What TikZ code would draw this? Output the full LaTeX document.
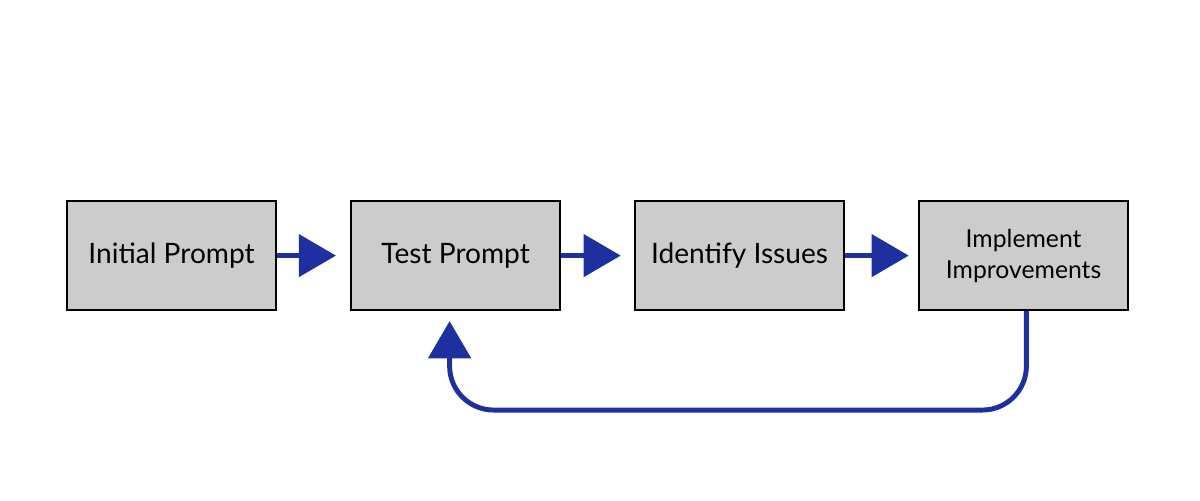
\documentclass[tikz,border=0pt]{standalone}
\usepackage{fontspec}
\setmainfont{Lato}
\usepackage{tikz}
\usetikzlibrary{positioning, calc, arrows.meta}

\definecolor{flowblue}{RGB}{30,48,160}
\definecolor{boxgray}{RGB}{204,204,204}

\begin{document}
\begin{tikzpicture}[node distance=7.1cm, on grid, auto,
					box/.style={draw=black, line width=1.5pt, fill=boxgray, minimum width=5.23cm,
						minimum height=2.72cm, align=center, font=\fontsize{20}{24}\selectfont},
					flow/.style={draw=flowblue, line width=3.5pt,
						-{Triangle[length=0.93cm, width=1.05cm]}} ]
					\useasboundingbox (0,0) rectangle (30,12.5);
					\node[box]              (A) at (4.29,6.11)  {Initial Prompt};
					\node[box]              (B) [right=of A]    {Test Prompt};
					\node[box]              (C) [right=of B]    {Identify Issues};
					\node[box, font=\fontsize{17.6}{22}\selectfont]
					                        (D) [right=of C]    {Implement\\Improvements};
					
					%Setas entre as etapas:
					\draw[flow] (A.east) -- ([xshift=-0.35cm]B.west);
					\draw[flow] (B.east) -- ([xshift=-0.33cm]C.west);
					\draw[flow] (C.east) -- ([xshift=-0.23cm]D.west);
					
					%Retorno:
					\coordinate (R) at ($(B.south)+(-0.15,-2.475)$);
					\draw[flow, rounded corners=1.1cm] ([xshift=0.07cm]D.south) |- (R)
						-- ([xshift=-0.15cm,yshift=-0.25cm]B.south);
				\end{tikzpicture}
\end{document}
